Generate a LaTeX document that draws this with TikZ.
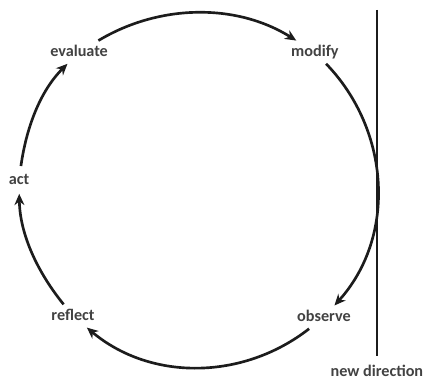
\documentclass[tikz,border=0pt]{standalone}
\usepackage{fontspec}
\setmainfont{Carlito}
\usepackage{tikz}
\usetikzlibrary{
    arrows.meta,
    positioning
}
\definecolor{labelgray}{RGB}{66,66,66}
\definecolor{linegray}{RGB}{28,28,28}
\tikzstyle{stage} = [
    rectangle,
    inner xsep=2pt,
    inner ysep=3.8pt,
    text height=8pt,
    text depth=1.5pt,
    text=labelgray,
    font=\fontsize{12.2}{14}\selectfont\bfseries
]
\tikzstyle{cyclearrow} = [
    -{Stealth[length=8.5pt,width=7.5pt]},
    line width=2pt,
    draw=linegray
]
\tikzstyle{boundary} = [
    line width=2pt,
    draw=linegray
]
\begin{document}
\begin{tikzpicture}
        \useasboundingbox (-5.252,-5.080) rectangle (5.993,5.001);

        % Stages of the cycle (clockwise from the left)
        \node[stage, inner ysep=5.5pt] (act) at (-4.75,0.24) {act};
        \node[stage] (evaluate) at (-3.16,3.62) {evaluate};
        \node[stage] (modify) at (3.08,3.62) {modify};
        \node[stage] (observe) at (3.32,-3.39) {observe};
        \node[stage] (reflect) at (-3.32,-3.36) {reflect};

        % New direction (right)
        \node[stage] (newdir) at (4.72,-4.84) {new direction};
        \coordinate (linetop) at (4.72,4.74);
        \draw[boundary, shorten >=3.5pt] (linetop) -- (newdir);

        % Cycle arrows
        \draw[cyclearrow] (act) to[out=82, in=225, looseness=0.88] (evaluate);
        \draw[cyclearrow] (evaluate) to[out=31, in=148, looseness=0.92] (modify);
        \draw[cyclearrow] (modify) to[out=-46, in=48, looseness=0.98] (observe);
        \draw[cyclearrow] (observe) to[out=-142, in=-40, looseness=0.96] (reflect);
        \draw[cyclearrow] (reflect) to[out=129, in=-89, looseness=0.88] (act);
    \end{tikzpicture}
\end{document}
